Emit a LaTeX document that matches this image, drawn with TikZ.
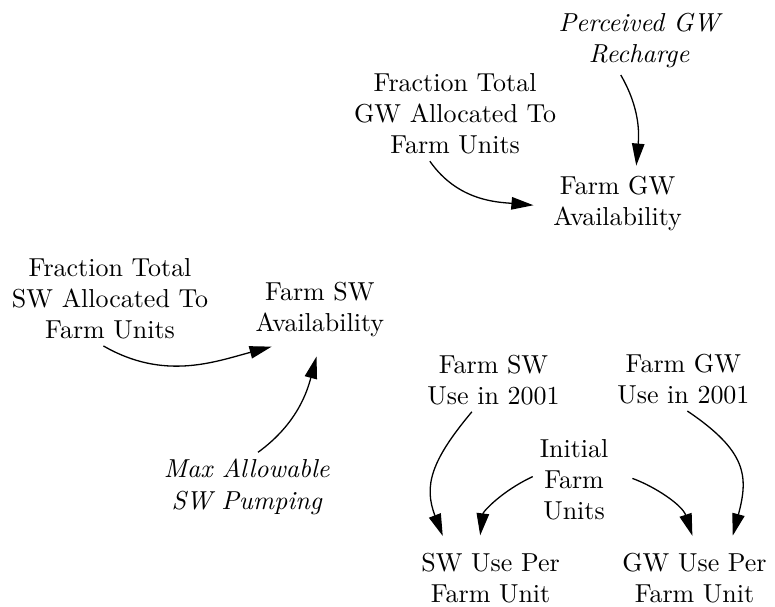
\documentclass[tikz,border=0pt]{standalone}
\usetikzlibrary{arrows.meta}

\begin{document}
\begin{tikzpicture}[
        var/.style={align=center, inner sep=2.5pt},
        shadowvar/.style={var, font=\itshape},
        link/.style={-{Triangle[length=8.5pt, width=4.8pt]}, line width=0.5pt, shorten >=4pt}
    ]
        \useasboundingbox (0,0) rectangle (10.49,8.21);

        % groundwater part
        \node[shadowvar] (perc) at (8.65, 7.66) {Perceived GW\\Recharge};
        \node[var] (fgwfrac) at (6.16, 6.67) {Fraction Total\\GW Allocated To\\Farm Units};
        \node[var] (fgw) at (8.36, 5.45) {Farm GW\\Availability};

        % surface water part
        \node[var] (fswfrac) at (1.49, 4.17) {Fraction Total\\SW Allocated To\\Farm Units};
        \node[var] (fsw) at (4.33, 4.02) {Farm SW\\Availability};
        \node[shadowvar] (maxsw) at (3.34, 1.62) {Max Allowable\\SW Pumping};

        % use per farm unit
        \node[var] (swuse) at (6.68, 3.07) {Farm SW\\Use in 2001};
        \node[var] (gwuse) at (9.25, 3.08) {Farm GW\\Use in 2001};
        \node[var] (initfu) at (7.77, 1.72) {Initial\\Farm\\Units};
        \node[var] (swper) at (6.64, 0.39) {SW Use Per\\Farm Unit};
        \node[var] (gwper) at (9.40, 0.39) {GW Use Per\\Farm Unit};

        % draw arrows
        \draw[link, shorten >=1.5pt] (perc.-118) to[out=-60, in=85] (fgw.62);
        \draw[link, shorten >=5pt] (fgwfrac.-118) to[out=-55, in=175] (fgw.182);
        \draw[link] (fswfrac.-98) to[out=-30, in=195] (fsw.-138);
        \draw[link, shorten >=5pt] (maxsw.72) to[out=36, in=-105] (fsw.south);
        \draw[link] (swuse.-124) to[out=-130, in=111, looseness=1.2] (swper.144);
        \draw[link] (initfu.176) to[out=205, in=83] (swper.110);
        \draw[link, shorten <=7pt] (initfu.10) to[out=-20, in=108] (gwper.88);
        \draw[link] (gwuse.-83) to[out=-34, in=75, looseness=1.3] (gwper.42);

    \end{tikzpicture}
\end{document}
